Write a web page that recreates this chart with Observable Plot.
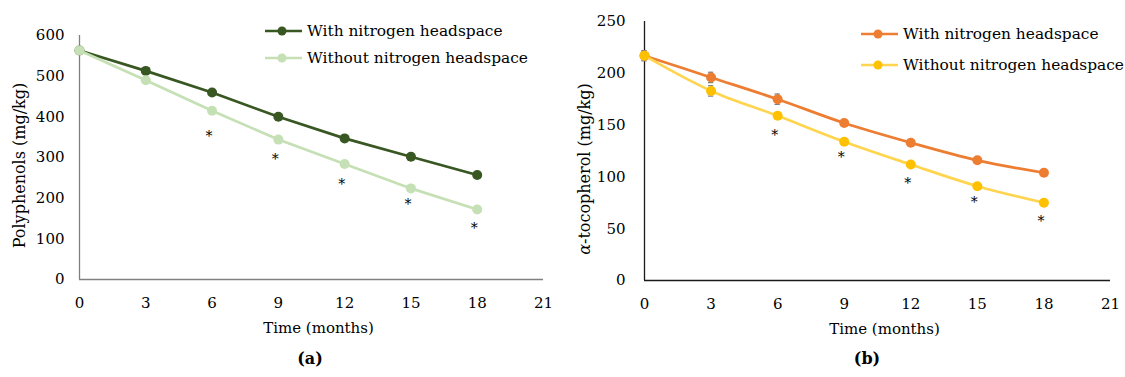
<!DOCTYPE html>
<html><head><meta charset="utf-8">
<script src="https://cdn.jsdelivr.net/npm/d3@7"></script>
<script src="https://cdn.jsdelivr.net/npm/@observablehq/plot@0.6"></script>
<style>
body{margin:0;background:#fff;}
#wrap{position:relative;width:1125px;height:377px;overflow:hidden;font-family:"DejaVu Serif",serif;background:#fff;}
#wrap svg{position:absolute;top:0;}
</style></head><body><div id="wrap"></div>
<script>
// ---- data ----
const months = [0, 3, 6, 9, 12, 15, 18];
const xTicks = [0, 3, 6, 9, 12, 15, 18, 21];
const seriesNames = ["With nitrogen headspace", "Without nitrogen headspace"];

const polyTicks = [0, 100, 200, 300, 400, 500, 600];
const polyWith = [563, 513, 460, 400, 347, 302, 257];
const polyWithout = [563, 490, 415, 344, 284, 224, 172];
const polyStarMonths = [6, 9, 12, 15, 18];
const polyStars = [352, 296, 234, 184, 126];

const tocoTicks = [0, 50, 100, 150, 200, 250];
const tocoWith = [217, 196, 175, 152, 133, 116, 104];
const tocoWithout = [217, 183, 159, 134, 112, 91, 75];
const tocoWithErr = [5, 5, 5, 2, 2, 2, 2];
const tocoWithoutErr = [4, 5, 2, 2, 2, 2, 2];
const tocoStarMonths = [6, 9, 12, 15, 18];
const tocoStars = [140, 119, 94, 75, 57];

const panelLabels = ["(a)", "(b)"];

// ---- drawing ----
const FONT = "DejaVu Serif";
function panel(o) {
  const rows = (vals, errs) => months.map((m, i) => ({month: m, value: vals[i], err: errs ? errs[i] : 0}));
  const A = rows(o.withVals, o.withErr), B = rows(o.withoutVals, o.withoutErr);
  const errRows = [...A, ...B].filter(d => d.err > 0);
  const starRows = o.starMonths.map((m, i) => ({month: m, value: o.stars[i]}));
  const yMax = o.yTicks[o.yTicks.length - 1];
  return Plot.plot({
    width: o.width, height: 377,
    marginLeft: o.marginLeft, marginRight: o.marginRight, marginTop: o.marginTop, marginBottom: o.marginBottom,
    style: {fontFamily: FONT, fontSize: "15px", color: "#000", background: "transparent"},
    x: {domain: [0, 21]},
    y: {domain: [0, yMax]},
    marks: [
      Plot.axisX(xTicks, {tickSize: 0, tickPadding: 18, fontSize: 15, label: null}),
      Plot.axisY(o.yTicks, {tickSize: 0, tickPadding: o.tickPadY, fontSize: 15, label: null}),
      Plot.ruleY([0], {stroke: o.axisColor, strokeWidth: 1.3}),
      Plot.ruleX([0], {y1: 0, y2: yMax, stroke: o.axisColor, strokeWidth: 1.3}),
      Plot.ruleX(errRows, {x: "month", y1: d => d.value - d.err, y2: d => d.value + d.err, stroke: "#7f7f7f", strokeWidth: 1.2}),
      Plot.ruleY(errRows, {y: d => d.value + d.err, x1: d => d.month - 0.12, x2: d => d.month + 0.12, stroke: "#7f7f7f", strokeWidth: 1.2}),
      Plot.ruleY(errRows, {y: d => d.value - d.err, x1: d => d.month - 0.12, x2: d => d.month + 0.12, stroke: "#7f7f7f", strokeWidth: 1.2}),
      Plot.line(A, {x: "month", y: "value", stroke: o.lineColors[0], strokeWidth: 2.7, curve: o.curve}),
      Plot.dot(A, {x: "month", y: "value", r: 5, fill: o.colors[0]}),
      Plot.line(B, {x: "month", y: "value", stroke: o.lineColors[1], strokeWidth: 2.7, curve: o.curve}),
      Plot.dot(B, {x: "month", y: "value", r: 5, fill: o.colors[1]}),
      Plot.text(starRows, {x: "month", y: "value", text: () => "*", dx: -3, fontSize: 14, fill: "#000", lineAnchor: "middle"}),
      Plot.text(["Time (months)"], {frameAnchor: "bottom", dy: 49, dx: 7, fontSize: 15, lineAnchor: "middle", textAnchor: "middle", fill: "#000"}),
      Plot.text([o.yLabel], {frameAnchor: "left", rotate: -90, dx: o.labelDx, dy: o.labelDy, fontSize: 16, lineAnchor: "middle", textAnchor: "middle", fill: "#000"})
    ]
  });
}

const wrap = document.getElementById("wrap");
const left = panel({
  width: 560, marginLeft: 79, marginRight: 17, marginTop: 35, marginBottom: 98,
  yTicks: polyTicks, yLabel: "Polyphenols (mg/kg)", withVals: polyWith, withoutVals: polyWithout,
  starMonths: polyStarMonths, stars: polyStars,
  colors: ["#385723", "#c5e0b4"], lineColors: ["#385723", "#c5e0b4"],
  axisColor: "#808080", curve: "linear", tickPadY: 15, labelDx: -60, labelDy: 8
});
left.style.left = "0px";
wrap.appendChild(left);

const right = panel({
  width: 565, marginLeft: 84, marginRight: 15, marginTop: 21, marginBottom: 97,
  yTicks: tocoTicks, yLabel: "α-tocopherol (mg/kg)", withVals: tocoWith, withoutVals: tocoWithout,
  withErr: tocoWithErr, withoutErr: tocoWithoutErr,
  starMonths: tocoStarMonths, stars: tocoStars,
  colors: ["#ed7d31", "#ffc000"], lineColors: ["#ed7d31", "#ffd54f"],
  axisColor: "#1a1a1a", curve: "catmull-rom", tickPadY: 19, labelDx: -60, labelDy: 18
});
right.style.left = "560px";
wrap.appendChild(right);

// italic alpha
d3.select(right).selectAll("text").filter(function () { return this.textContent === "α-tocopherol (mg/kg)"; })
  .each(function () {
    const t = d3.select(this);
    t.text(null);
    t.append("tspan").attr("font-style", "italic").text("α");
    t.append("tspan").text("-tocopherol (mg/kg)");
  });

// ---- legends & panel labels overlay ----
const ov = d3.select(wrap).append("svg").attr("width", 1125).attr("height", 377)
  .style("left", "0px").style("pointer-events", "none")
  .attr("font-family", FONT).attr("font-size", 15.4);
const legends = [
  {x: 265, ys: [31, 58], colors: ["#385723", "#c5e0b4"], lines: ["#385723", "#c5e0b4"]},
  {x: 861, ys: [34, 65], colors: ["#ed7d31", "#ffc000"], lines: ["#ed7d31", "#ffd54f"]}
];
legends.forEach(L => {
  seriesNames.forEach((name, i) => {
    const g = ov.append("g").attr("transform", `translate(${L.x},${L.ys[i]})`);
    g.append("line").attr("x1", 0).attr("x2", 37).attr("stroke", L.lines[i]).attr("stroke-width", 2.7);
    g.append("circle").attr("cx", 17).attr("r", 4.5).attr("fill", L.colors[i]);
    g.append("text").attr("x", 42).attr("dy", "0.35em").attr("fill", "#000").text(name);
  });
});
[310, 867].forEach((x, i) => {
  ov.append("text").attr("x", x).attr("y", 358).attr("dy", "0.35em").attr("text-anchor", "middle")
    .attr("font-weight", "bold").attr("font-size", 16).attr("fill", "#000").text(panelLabels[i]);
});
</script></body></html>
